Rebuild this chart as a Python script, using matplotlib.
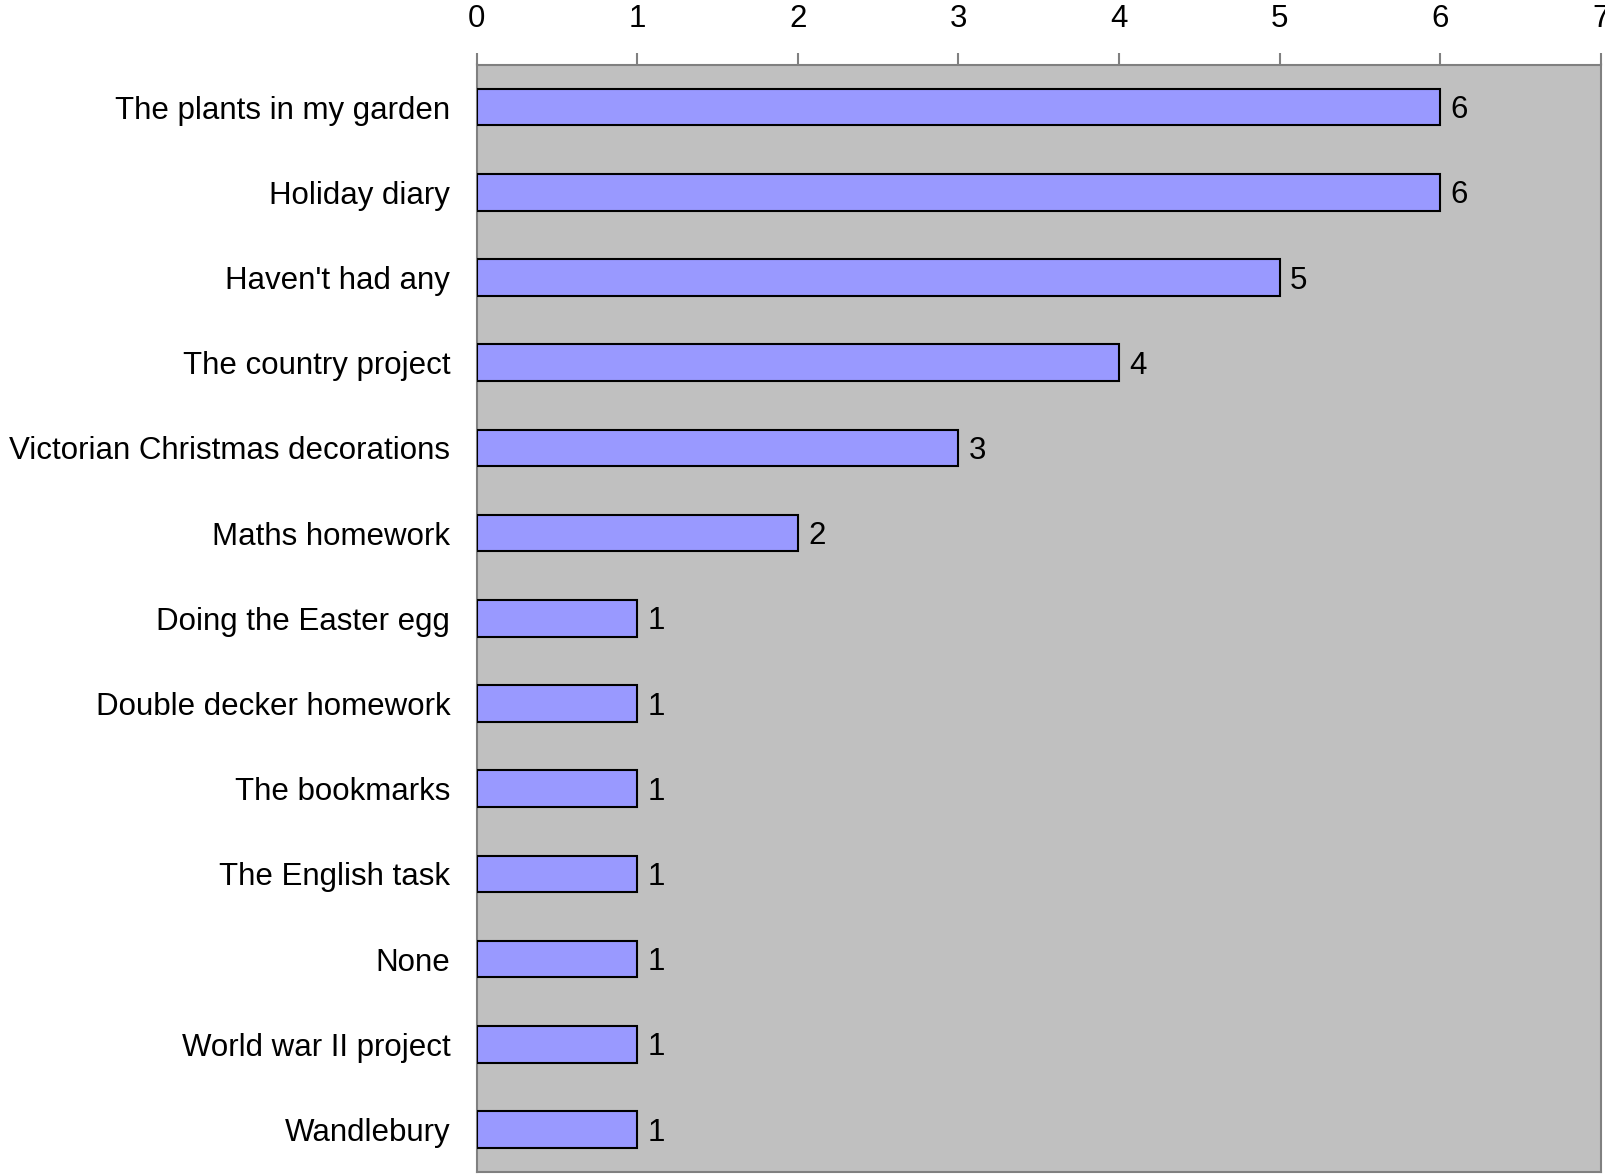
import matplotlib.pyplot as plt

plt.rcParams["font.family"] = ["Liberation Sans", "DejaVu Sans"]

labels = [
    "The plants in my garden",
    "Holiday diary",
    "Haven't had any",
    "The country project",
    "Victorian Christmas decorations",
    "Maths homework",
    "Doing the Easter egg",
    "Double decker homework",
    "The bookmarks",
    "The English task",
    "None",
    "World war II project",
    "Wandlebury",
]
counts = [6, 6, 5, 4, 3, 2, 1, 1, 1, 1, 1, 1, 1]
x_ticks = [0, 1, 2, 3, 4, 5, 6, 7]

FS = 22.5
W, H = 1606, 1175
fig = plt.figure(figsize=(W / 100, H / 100), dpi=100)
ax = fig.add_axes([476.7 / W, 1 - 1172 / H, (1600.7 - 476.7) / W, (1172 - 64.5) / H])
ax.set_facecolor("#C0C0C0")

y = list(range(len(labels)))
ax.barh(y, counts, height=0.43, color="#9999FF", edgecolor="black", linewidth=1.5, zorder=3)
for yi, c in zip(y, counts):
    ax.annotate(str(c), (c, yi), xytext=(7.5, -8), textcoords="offset points",
                va="baseline", ha="left", fontsize=FS, zorder=4)

ax.set_xlim(0, 7)
ax.set_ylim(len(labels) - 0.5, -0.5)
ax.set_xticks(x_ticks)
ax.xaxis.tick_top()
ax.tick_params(axis="x", direction="out", length=9, width=1.5, color="#808080",
               labelsize=FS, pad=13)
ax.set_yticks(y)
ax.set_yticklabels(labels)
ax.tick_params(axis="y", length=0, labelsize=FS, pad=19)

for side in ["top", "left", "right", "bottom"]:
    ax.spines[side].set_color("#808080")
    ax.spines[side].set_linewidth(1.5)

fig.savefig("out.png", dpi=100)
